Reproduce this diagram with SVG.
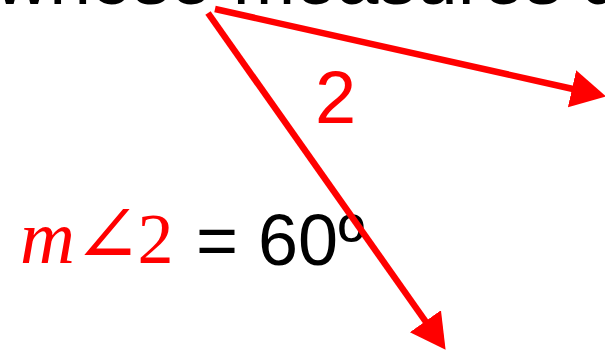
<svg xmlns="http://www.w3.org/2000/svg" width="605" height="355" viewBox="0 0 605 355">
<style>
.t{font-family:"Liberation Sans",Arial,sans-serif;fill:#000}
.red{fill:#ff0000}
.mi{font-family:"Liberation Serif","DejaVu Serif",serif;font-style:italic}
.ln{stroke:#ff0000;stroke-width:6.5;fill:none}
</style>
<defs>
<marker id="ah" viewBox="0 -20 37 40" refX="1" refY="0" markerUnits="userSpaceOnUse" markerWidth="37" markerHeight="40" orient="auto">
<path d="M0,-19 L35,0 L0,19 z" fill="#ff0000"/>
</marker>
</defs>
<g id="heading"><text class="t" x="-5" y="4" font-size="75">whose measures are</text></g>
<g id="label2"><text class="t red" x="315" y="123" font-size="74">2</text></g>
<g id="equation"><text x="20" y="263"><tspan class="mi red" font-size="76">m</tspan><tspan class="red" font-family="'DejaVu Serif',serif" font-size="82" dx="-2">∠</tspan><tspan class="red" font-family="'Liberation Serif',serif" font-size="72" dx="-4">2</tspan></text><text class="t" x="196" y="265" font-size="72">= 60º</text></g>
<g id="connectors">
<line class="ln" x1="215" y1="9" x2="573" y2="89" marker-end="url(#ah)"/>
<line class="ln" x1="208" y1="13" x2="426" y2="322" marker-end="url(#ah)"/>
</g>
</svg>
